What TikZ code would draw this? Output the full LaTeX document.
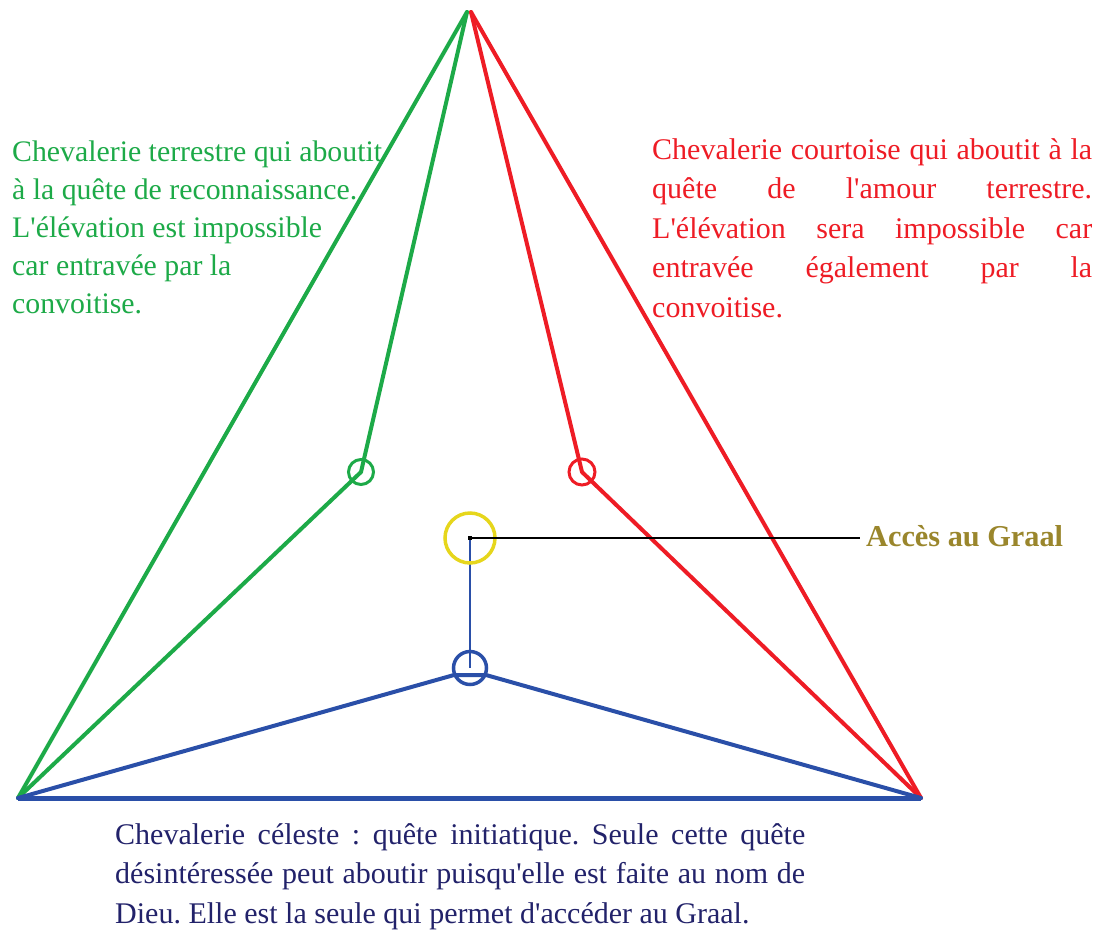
\documentclass[tikz,border=0pt]{standalone}
\usepackage{fontspec}
\setmainfont{Liberation Serif}[Ligatures=TeXOff]
\frenchspacing
\definecolor{cgreen}{HTML}{1DAA48}
\definecolor{cred}{HTML}{EE1C25}
\definecolor{cblue}{HTML}{2A4FA8}
\definecolor{cyellow}{HTML}{E6D61C}
\definecolor{cgold}{HTML}{9A862C}
\definecolor{cnavy}{HTML}{22226A}
\tikzset{
  thick line/.style={line width=4pt, line join=round, line cap=round},
  ring/.style={circle, draw, line width=3pt, inner sep=0pt},
  txt/.style={inner sep=0pt, anchor=base west, align=left},
}
\begin{document}
\begin{tikzpicture}[x=1pt,y=-1pt]
\useasboundingbox (0,0) rectangle (1100,932);
% key points
\coordinate (apexg) at (467,12);
\coordinate (apexr) at (471,12);
\coordinate (bl) at (18,798);
\coordinate (br) at (921,798);
\coordinate (gc) at (361,472);
\coordinate (rc) at (582,472);
\coordinate (yc) at (470,538);
\coordinate (bc) at (470,668);
\coordinate (bcl) at (454,675);
\coordinate (bcr) at (486,675);
\coordinate (lab) at (860,538);
% green
\draw[thick line, cgreen] (apexg) -- (bl);
\draw[thick line, cgreen] (apexg) -- (gc) -- (bl);
% red
\draw[thick line, cred] (apexr) -- (br);
\draw[thick line, cred] (apexr) -- (rc) -- (br);
% blue
\draw[line width=5pt, cblue] (bl) -- (br);
\draw[thick line, cblue] (bl) -- (bcl) -- (bcr) -- (br);
\draw[line width=1.5pt, cblue] (yc) -- (bc);
% circles
\node[ring, cgreen, minimum size=25pt] (gring) at (gc) {};
\node[ring, cred, minimum size=26pt] (rring) at (rc) {};
\node[ring, cyellow, line width=3.5pt, minimum size=50pt] (yring) at (yc) {};
\node[ring, cblue, line width=3.5pt, minimum size=33pt] (bring) at (bc) {};
% pointer
\draw[line width=1.8pt, black] (yc) -- (lab);
\fill[black] (468,536) rectangle (472,540);
\node[txt, text=cgold, font=\fontsize{30.3}{39}\selectfont\bfseries] (graal) at (866,546) {Accès au Graal};
% green text (anchored at last line baseline)
\node[txt, text=cgreen, font=\fontsize{29.8}{38}\selectfont] (gtext) at (12,313)
 {Chevalerie terrestre qui aboutit\\ à la quête de reconnaissance.\\ L'élévation est impossible\\ car entravée par la\\ convoitise.};
% red text
\node[txt, text=cred, font=\fontsize{30}{39.5}\selectfont] (rtext) at (652,317)
 {\makebox[440pt][s]{Chevalerie courtoise qui aboutit à la}\\
  \makebox[440pt][s]{quête de l'amour terrestre.}\\
  \makebox[440pt][s]{L'élévation sera impossible car}\\
  \makebox[440pt][s]{entravée également par la}\\
  convoitise.};
% blue text
\node[txt, text=cnavy, font=\fontsize{30}{39.5}\selectfont] (btext) at (115,923)
 {\makebox[690pt][s]{Chevalerie céleste : quête initiatique. Seule cette quête}\\
  \makebox[690pt][s]{désintéressée peut aboutir puisqu'elle est faite au nom de}\\
  Dieu. Elle est la seule qui permet d'accéder au Graal.};
\end{tikzpicture}
\end{document}
